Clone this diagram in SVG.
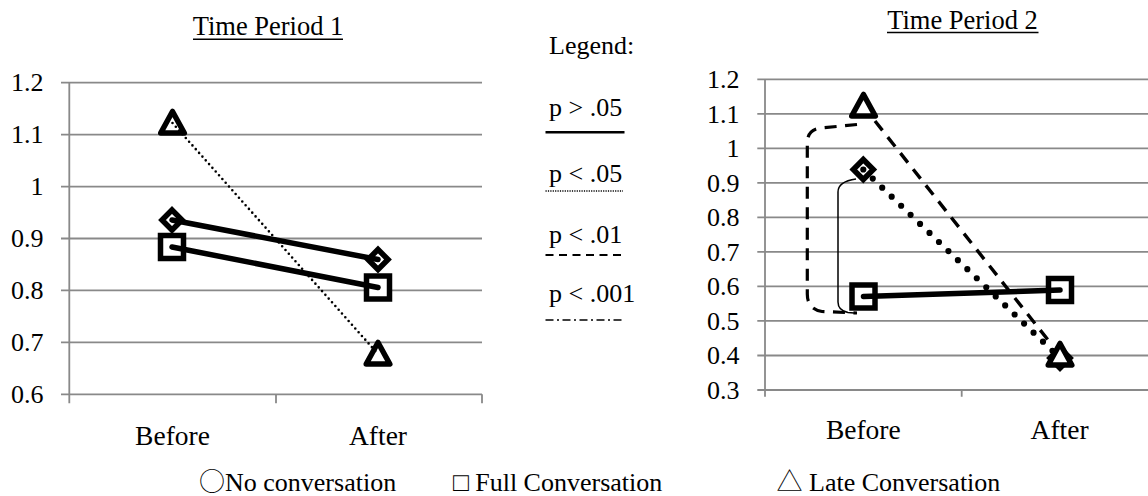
<svg xmlns="http://www.w3.org/2000/svg" xmlns:xlink="http://www.w3.org/1999/xlink" width="1148" height="496" viewBox="0 0 1148 496">
<style>
text{font-family:"Liberation Serif","Times New Roman",serif;fill:#000;}
.t{font-size:26.5px;}
.lg{font-size:26px;}
.ax{font-size:26px;text-anchor:end;}
.cat{font-size:27.5px;text-anchor:middle;}
.sym{font-family:"Noto Sans CJK JP","DejaVu Sans",sans-serif;font-weight:300;}
.grid{stroke:#898989;stroke-width:1.8;fill:none;}
.mk{fill:#fff;stroke:#000;stroke-width:5.5;stroke-linejoin:miter;}
.mkt{fill:#fff;stroke:#000;stroke-width:5.5;stroke-linejoin:round;}
.solid{stroke:#000;stroke-width:5.5;stroke-linecap:round;fill:none;}
</style>
<defs>
<path id="dia" class="mk" d="M0,-10 L10,0 L0,10 L-10,0 Z"/>
<rect id="sq" class="mk" x="-11.5" y="-11.5" width="23" height="23"/>
<path id="tri" class="mkt" d="M0,-11.5 L11.8,10 L-11.8,10 Z"/>
</defs>
<rect width="1148" height="496" fill="#fff"/>

<g id="chart1">
<g id="chart1-title"><text class="t" x="268" y="35" text-anchor="middle">Time Period 1</text><line x1="193" y1="39.3" x2="343" y2="39.3" stroke="#000" stroke-width="1.5"/></g>
<g id="chart1-grid" class="grid">
<path d="M61,82.7H482M61,134.6H482M61,186.6H482M61,238.5H482M61,290.4H482M61,342.4H482M61,394.3H482"/>
<path d="M69.3,82.7V403.3M276,394.3V403.3M482,394.3V403.3"/>
</g>
<g id="chart1-yaxis">
<text class="ax" x="43.5" y="91">1.2</text>
<text class="ax" x="43.5" y="143">1.1</text>
<text class="ax" x="43.5" y="195">1</text>
<text class="ax" x="43.5" y="247">0.9</text>
<text class="ax" x="43.5" y="299">0.8</text>
<text class="ax" x="43.5" y="351">0.7</text>
<text class="ax" x="43.5" y="403">0.6</text>
</g>
<g id="chart1-xaxis">
<text class="cat" x="172.5" y="445">Before</text>
<text class="cat" x="378" y="445">After</text>
</g>
<g id="chart1-markers">
<use xlink:href="#dia" x="172" y="220"/>
<use xlink:href="#dia" x="378" y="259.5"/>
<use xlink:href="#sq" x="172" y="247"/>
<use xlink:href="#sq" x="378" y="287.5"/>
<use xlink:href="#tri" x="172.5" y="123"/>
<use xlink:href="#tri" x="378" y="354"/>
</g>
<g id="chart1-connectors">
<path class="solid" d="M172,220 L378,259.5"/>
<path class="solid" d="M172,247 L378,287.5"/>
<path d="M172.5,123 L378,354" stroke="#000" stroke-width="2.6" stroke-linecap="round" stroke-dasharray="0 5" fill="none"/>
</g>
</g>

<g id="legend">
<text class="lg" x="549" y="54">Legend:</text>
<text class="lg" x="549" y="115.5">p &gt; .05</text>
<line x1="545.5" y1="132.3" x2="624.5" y2="132.3" stroke="#000" stroke-width="2.5"/>
<text class="lg" x="549" y="181.5">p &lt; .05</text>
<line x1="545.5" y1="191" x2="623" y2="191" stroke="#000" stroke-width="1.5" stroke-dasharray="1.2 1.2"/>
<text class="lg" x="549" y="242.5">p &lt; .01</text>
<line x1="545.5" y1="255" x2="623" y2="255" stroke="#000" stroke-width="2" stroke-dasharray="8 5.5"/>
<text class="lg" x="549" y="301.5">p &lt; .001</text>
<line x1="545.5" y1="320" x2="623" y2="320" stroke="#000" stroke-width="1.5" stroke-dasharray="8 3.5 2 3.5"/>
</g>

<g id="chart2">
<g id="chart2-title"><text class="t" x="962.5" y="28.5" text-anchor="middle">Time Period 2</text><line x1="887" y1="32.5" x2="1038.5" y2="32.5" stroke="#000" stroke-width="1.5"/></g>
<g id="chart2-grid" class="grid">
<path d="M757.3,79.3H1148M757.3,113.8H1148M757.3,148.3H1148M757.3,182.9H1148M757.3,217.4H1148M757.3,251.9H1148M757.3,286.4H1148M757.3,320.9H1148M757.3,355.5H1148M757.3,390H1148"/>
<path d="M765,79.3V396.7M961.7,390V396.7"/>
</g>
<g id="chart2-yaxis">
<text class="ax" x="739.5" y="88">1.2</text>
<text class="ax" x="739.5" y="122.5">1.1</text>
<text class="ax" x="739.5" y="157">1</text>
<text class="ax" x="739.5" y="191.5">0.9</text>
<text class="ax" x="739.5" y="226">0.8</text>
<text class="ax" x="739.5" y="260.5">0.7</text>
<text class="ax" x="739.5" y="295">0.6</text>
<text class="ax" x="739.5" y="329.5">0.5</text>
<text class="ax" x="739.5" y="364">0.4</text>
<text class="ax" x="739.5" y="398.5">0.3</text>
</g>
<g id="chart2-xaxis">
<text class="cat" x="863.3" y="438.5">Before</text>
<text class="cat" x="1059.6" y="438.5">After</text>
</g>
<g id="chart2-markers">
<use xlink:href="#dia" x="863.3" y="169.5"/>
<use xlink:href="#dia" x="1060" y="358"/>
<use xlink:href="#sq" x="863.5" y="296.5"/>
<use xlink:href="#sq" x="1060" y="290"/>
<use xlink:href="#tri" x="863.5" y="106"/>
<use xlink:href="#tri" x="1060" y="355"/>
</g>
<g id="chart2-connectors">
<path class="solid" d="M863.5,296.5 L1060,290"/>
<path d="M863.3,169.5 L1060,358" stroke="#000" stroke-width="6.2" stroke-linecap="round" stroke-dasharray="0 13.1" fill="none"/>
<path d="M875,121 L1052,345" stroke="#000" stroke-width="3.4" stroke-dasharray="12 8.5" fill="none"/>
<path d="M857,124.5 L821,128 Q807.3,129.5 807.3,143 L807.3,294 Q807.3,309 822,311.5 L857,313" stroke="#000" stroke-width="3.2" stroke-dasharray="12 8.5" fill="none"/>
<path d="M856,179 Q838,181.5 838,192 L838,302 Q838,310.5 848,312.5 L857,313.3" stroke="#000" stroke-width="1.5" fill="none"/>
</g>
</g>

<g id="series-legend">
<text class="lg" x="199" y="490.5"><tspan class="sym">○</tspan>No conversation</text>
<text class="lg" x="453" y="490.5">□ Full Conversation</text>
<text class="lg" x="776.5" y="490.5"><tspan class="sym">△</tspan> Late Conversation</text>
</g>
</svg>
